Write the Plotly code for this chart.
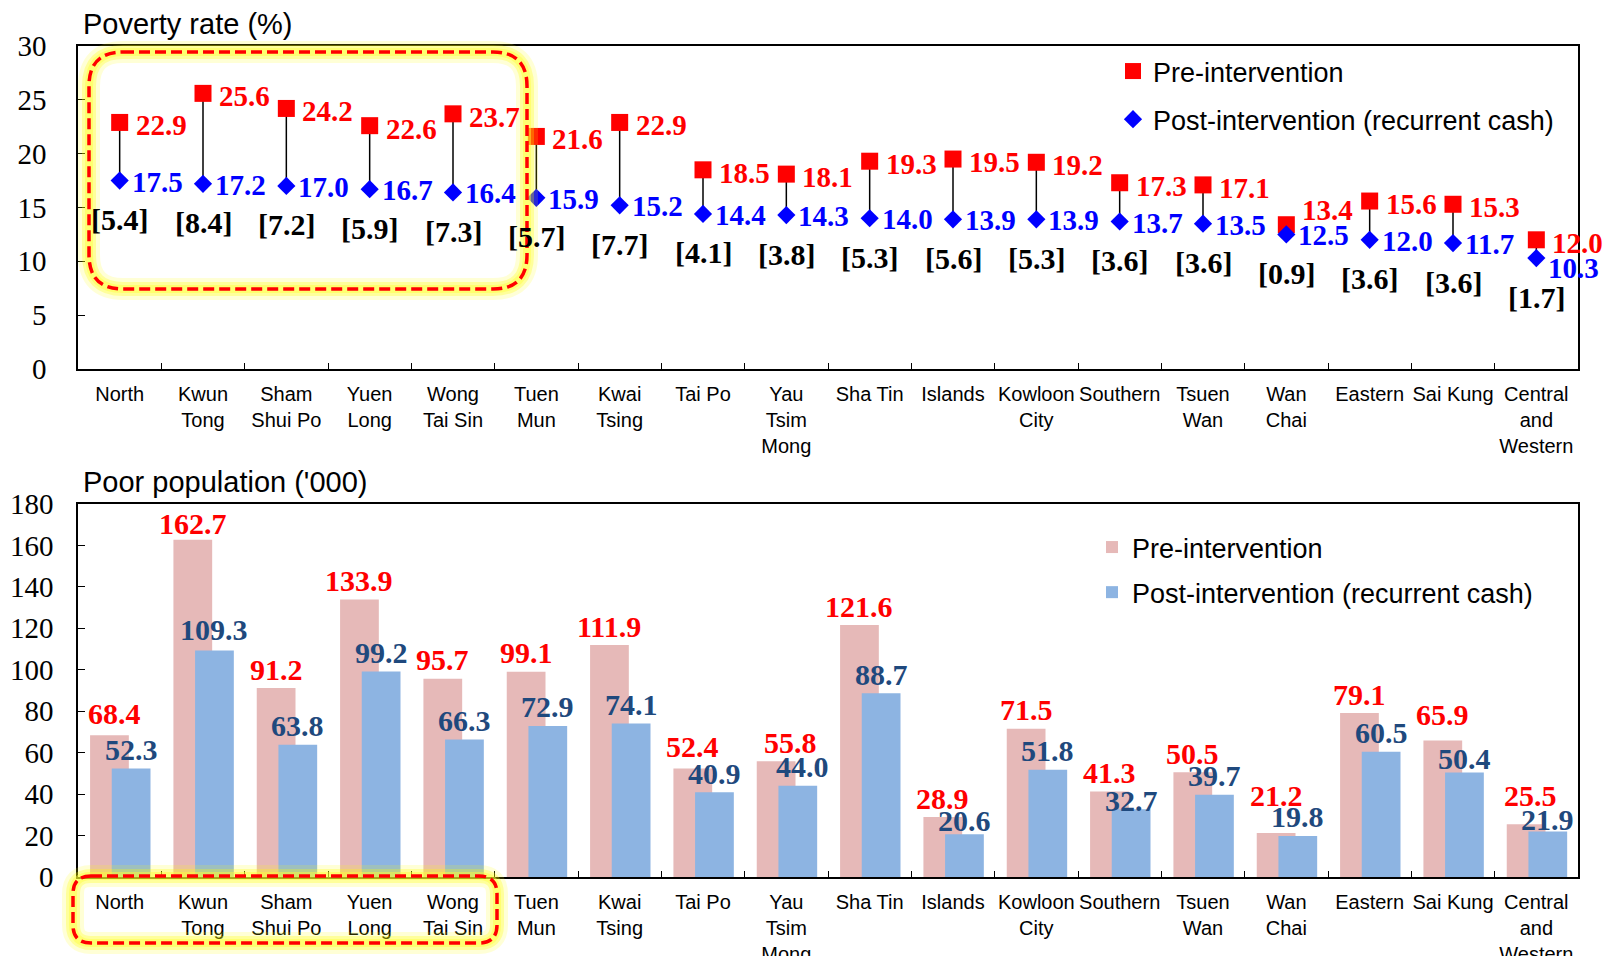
import plotly.graph_objects as go

# ---------------- data ----------------
districts = ["North", "Kwun<br>Tong", "Sham<br>Shui Po", "Yuen<br>Long", "Wong<br>Tai Sin",
             "Tuen<br>Mun", "Kwai<br>Tsing", "Tai Po", "Yau<br>Tsim<br>Mong", "Sha Tin",
             "Islands", "Kowloon<br>City", "Southern", "Tsuen<br>Wan", "Wan<br>Chai",
             "Eastern", "Sai Kung", "Central<br>and<br>Western"]

rate_pre = [22.9, 25.6, 24.2, 22.6, 23.7, 21.6, 22.9, 18.5, 18.1, 19.3, 19.5, 19.2,
            17.3, 17.1, 13.4, 15.6, 15.3, 12.0]
rate_post = [17.5, 17.2, 17.0, 16.7, 16.4, 15.9, 15.2, 14.4, 14.3, 14.0, 13.9, 13.9,
             13.7, 13.5, 12.5, 12.0, 11.7, 10.3]
rate_drop = [5.4, 8.4, 7.2, 5.9, 7.3, 5.7, 7.7, 4.1, 3.8, 5.3, 5.6, 5.3,
             3.6, 3.6, 0.9, 3.6, 3.6, 1.7]

pop_pre = [68.4, 162.7, 91.2, 133.9, 95.7, 99.1, 111.9, 52.4, 55.8, 121.6, 28.9, 71.5,
           41.3, 50.5, 21.2, 79.1, 65.9, 25.5]
pop_post = [52.3, 109.3, 63.8, 99.2, 66.3, 72.9, 74.1, 40.9, 44.0, 88.7, 20.6, 51.8,
            32.7, 39.7, 19.8, 60.5, 50.4, 21.9]

# label nudges (pixels, (dx, dy) with dy up) for crowded labels
rate_pre_nudge = {"Wan<br>Chai": (0, 18)}
rate_post_nudge = {"Central<br>and<br>Western": (0, -9)}
pop_pre_nudge = {"North": (5, 3), "Kwun<br>Tong": (0, -3), "Tai Po": (0, 3),
                 "Yau<br>Tsim<br>Mong": (14, 0), "Wan<br>Chai": (0, 19),
                 "Sai Kung": (0, 7), "Central<br>and<br>Western": (4, 10)}
pop_post_nudge = {"Southern": (0, -10), "Central<br>and<br>Western": (0, -7),
                  "Islands": (0, -5), "Sai Kung": (0, -5), "Yau<br>Tsim<br>Mong": (5, 0),
                  "Kwun<br>Tong": (0, 2)}

# ---------------- geometry helpers ----------------
W, H = 1604, 956
L, R = 78, 26
PLOT_W = W - L - R
CAT_PX = PLOT_W / 18.0


def px(x):
    return (x - L) / PLOT_W


def py(y):
    return (H - y) / H


SERIF = "Liberation Serif"
SANS = "Liberation Sans"
RED = "#FF0000"
BLUE = "#0000FF"
PINK = "#E6B9B8"
LBLUE = "#8DB4E2"
DBLUE = "#1F497D"

BAR_W = 0.465
PRE_OFF = -0.355
POST_OFF = -0.095

fig = go.Figure()

# connecting lines pre -> post
lx, ly = [], []
for d, a, b in zip(districts, rate_pre, rate_post):
    lx += [d, d, None]
    ly += [a, b, None]
fig.add_trace(go.Scatter(x=lx, y=ly, mode="lines", line=dict(color="black", width=1.5),
                         showlegend=False, hoverinfo="skip", xaxis="x", yaxis="y",
                         connectgaps=False))

fig.add_trace(go.Scatter(x=districts, y=rate_pre, mode="markers", name="Pre-intervention",
                         marker=dict(symbol="square", size=17, color=RED),
                         xaxis="x", yaxis="y", legend="legend", legendgroup="a"))
fig.add_trace(go.Scatter(x=districts, y=rate_post, mode="markers",
                         name="Post-intervention (recurrent cash)",
                         marker=dict(symbol="diamond", size=14, color=BLUE),
                         xaxis="x", yaxis="y", legend="legend", legendgroup="b"))

# bars
fig.add_trace(go.Bar(x=districts, y=pop_pre, name="Pre-intervention",
                     marker=dict(color=PINK, line=dict(width=0)),
                     width=BAR_W, offset=PRE_OFF,
                     xaxis="x2", yaxis="y2", legend="legend2", legendgroup="c"))
fig.add_trace(go.Bar(x=districts, y=pop_post, name="Post-intervention (recurrent cash)",
                     marker=dict(color=LBLUE, line=dict(width=0)),
                     width=BAR_W, offset=POST_OFF,
                     xaxis="x2", yaxis="y2", legend="legend2", legendgroup="d"))

annotations = []
for d, a, b, c in zip(districts, rate_pre, rate_post, rate_drop):
    ndx, ndy = rate_pre_nudge.get(d, (0, 0))
    annotations.append(dict(x=d, y=a, xref="x", yref="y", text=f"{a:.1f}", showarrow=False,
                            xanchor="left", yanchor="middle", xshift=14 + ndx,
                            yshift=-3 + ndy,
                            font=dict(family=SERIF, size=29, color=RED, weight="bold")))
    ndx, ndy = rate_post_nudge.get(d, (0, 0))
    annotations.append(dict(x=d, y=b, xref="x", yref="y", text=f"{b:.1f}", showarrow=False,
                            xanchor="left", yanchor="middle", xshift=10 + ndx,
                            yshift=-1 + ndy,
                            font=dict(family=SERIF, size=29, color=BLUE, weight="bold")))
    annotations.append(dict(x=d, y=b, xref="x", yref="y", text=f"[{c:.1f}]", showarrow=False,
                            xanchor="center", yanchor="middle", yshift=-39,
                            font=dict(family=SERIF, size=30, color="black", weight="bold")))

pre_cx = (PRE_OFF + BAR_W / 2) * CAT_PX
post_cx = (POST_OFF + BAR_W / 2) * CAT_PX
for d, a, b in zip(districts, pop_pre, pop_post):
    ndx, ndy = pop_pre_nudge.get(d, (0, 0))
    annotations.append(dict(x=d, y=a, xref="x2", yref="y2", text=f"{a:.1f}", showarrow=False,
                            xanchor="center", yanchor="middle", xshift=pre_cx + ndx,
                            yshift=19 + ndy,
                            font=dict(family=SERIF, size=30, color=RED, weight="bold")))
    ndx, ndy = pop_post_nudge.get(d, (0, 0))
    annotations.append(dict(x=d, y=b, xref="x2", yref="y2", text=f"{b:.1f}", showarrow=False,
                            xanchor="center", yanchor="middle", xshift=post_cx + ndx,
                            yshift=19 + ndy,
                            font=dict(family=SERIF, size=30, color=DBLUE, weight="bold")))

annotations.append(dict(x=px(81), y=py(24), xref="paper", yref="paper",
                        text="Poverty rate (%)", showarrow=False, xanchor="left",
                        yanchor="middle", font=dict(family=SANS, size=29, color="black")))
annotations.append(dict(x=px(81), y=py(482), xref="paper", yref="paper",
                        text="Poor population ('000)", showarrow=False, xanchor="left",
                        yanchor="middle", font=dict(family=SANS, size=29, color="black")))


def rounded_rect(x0, y0, x1, y1, r):
    X0, X1 = px(x0), px(x1)
    Y0, Y1 = py(y0), py(y1)
    rx = r / PLOT_W
    ry = r / H
    p = (f"M {X0 + rx},{Y0} L {X1 - rx},{Y0} Q {X1},{Y0} {X1},{Y0 - ry} "
         f"L {X1},{Y1 + ry} Q {X1},{Y1} {X1 - rx},{Y1} "
         f"L {X0 + rx},{Y1} Q {X0},{Y1} {X0},{Y1 + ry} "
         f"L {X0},{Y0 - ry} Q {X0},{Y0} {X0 + rx},{Y0} Z")
    return p


shapes = []
for (x0, y0, x1, y1, r) in [(89, 52, 527, 289, 34), (73, 876, 497, 943, 18)]:
    path = rounded_rect(x0, y0, x1, y1, r)
    shapes.append(dict(type="path", path=path, xref="paper", yref="paper", layer="above",
                       line=dict(color="rgba(255,255,0,0.16)", width=22)))
    shapes.append(dict(type="path", path=path, xref="paper", yref="paper", layer="above",
                       line=dict(color="rgba(255,255,0,0.28)", width=14)))
    shapes.append(dict(type="path", path=path, xref="paper", yref="paper", layer="above",
                       line=dict(color="rgba(255,255,60,0.45)", width=8)))
    shapes.append(dict(type="path", path=path, xref="paper", yref="paper", layer="above",
                       line=dict(color=RED, width=3.5, dash="11px,5px")))

xaxis_common = dict(type="category", range=[-0.5, 17.5], showline=True, mirror=True,
                    linecolor="black", linewidth=1.5, ticks="inside", tickson="boundaries",
                    ticklen=6, tickcolor="black", showgrid=False, zeroline=False,
                    tickangle=0, automargin=False,
                    tickfont=dict(family=SANS, size=20, color="black"),
                    ticklabelstandoff=6)
yaxis_common = dict(showline=True, mirror=True, linecolor="black", linewidth=1.5,
                    ticks="inside", ticklen=7, tickcolor="black", showgrid=False,
                    zeroline=False, automargin=False,
                    tickfont=dict(family="Liberation Serif, Times New Roman, serif",
                                  size=29, color="black"))

fig.update_layout(
    width=W, height=H,
    margin=dict(l=L, r=R, t=0, b=0, autoexpand=False),
    paper_bgcolor="white", plot_bgcolor="white",
    barmode="overlay",
    xaxis=dict(domain=[0, 1], anchor="y", **xaxis_common),
    yaxis=dict(domain=[py(369), py(46)], anchor="x", range=[0, 30], dtick=5,
               ticklabelstandoff=24, **yaxis_common),
    xaxis2=dict(domain=[0, 1], anchor="y2", **xaxis_common),
    yaxis2=dict(domain=[py(877), py(504)], anchor="x2", range=[0, 180], dtick=20,
                ticklabelstandoff=17, **yaxis_common),
    legend=dict(x=px(1113), y=py(47), xanchor="left", yanchor="top",
                font=dict(family=SANS, size=27, color="black"),
                bgcolor="rgba(0,0,0,0)", tracegroupgap=10, itemwidth=30),
    legend2=dict(x=px(1092), y=py(523), xanchor="left", yanchor="top",
                 font=dict(family=SANS, size=27, color="black"),
                 bgcolor="rgba(0,0,0,0)", tracegroupgap=7, itemwidth=30),
    annotations=annotations,
    shapes=shapes,
    showlegend=True,
)

fig.write_html("out.html")
